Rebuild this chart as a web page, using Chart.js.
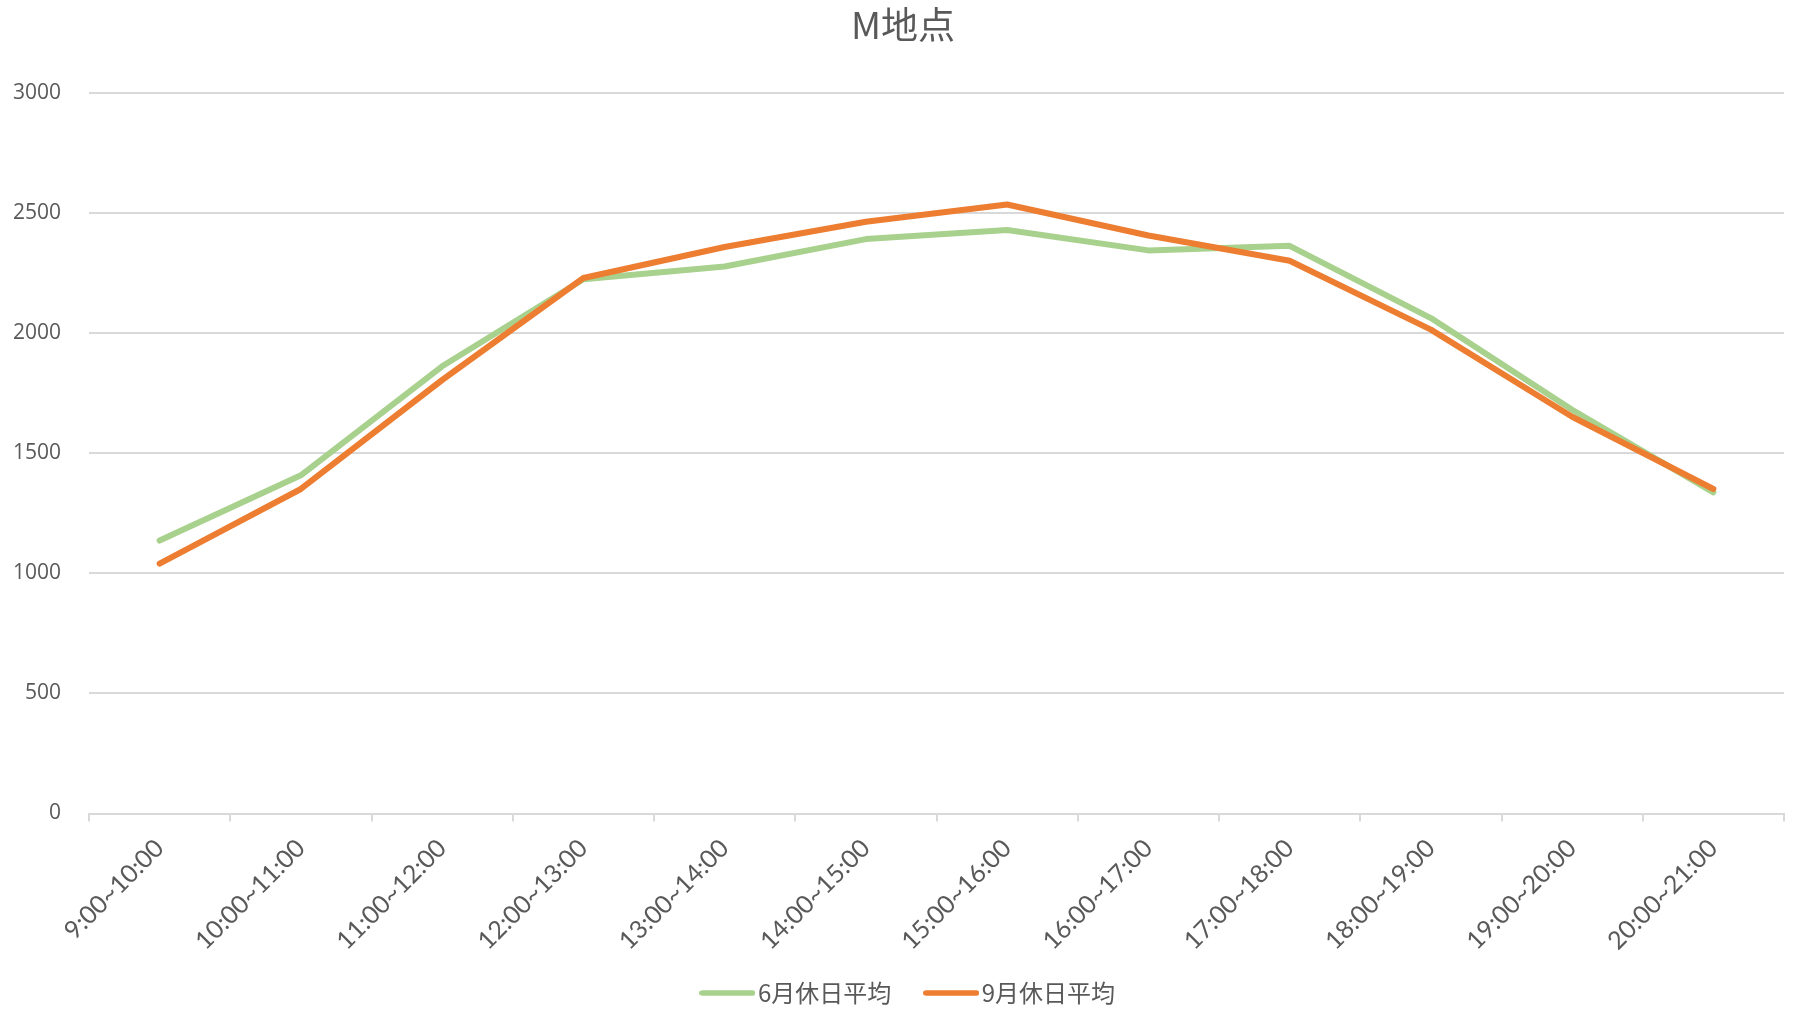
<!DOCTYPE html>
<html>
<head>
<meta charset="utf-8">
<script src="https://cdn.jsdelivr.net/npm/chart.js@4"></script>
<style>
  html, body { margin: 0; padding: 0; background: #fff; }
  #wrap { width: 1797px; height: 1009px; }
</style>
</head>
<body>
<div id="wrap"><canvas id="chart"></canvas></div>
<script>
const timeSlots = [
  "9:00~10:00", "10:00~11:00", "11:00~12:00", "12:00~13:00",
  "13:00~14:00", "14:00~15:00", "15:00~16:00", "16:00~17:00",
  "17:00~18:00", "18:00~19:00", "19:00~20:00", "20:00~21:00"
]
const juneHoliday = [1137, 1409, 1863, 2226, 2279, 2393, 2431, 2346, 2365, 2064, 1682, 1338]
const septHoliday = [1041, 1352, 1806, 2231, 2360, 2465, 2537, 2408, 2303, 2016, 1653, 1352]
const yTicks = [0, 500, 1000, 1500, 2000, 2500, 3000]

const grey = "#595959"
const gridColor = "#D9D9D9"
const cjk = "'Noto Sans CJK JP', 'Noto Sans', sans-serif"
const GREEN = "#A9D18E"
const ORANGE = "#ED7D31"

// short rounded stroke used as the legend marker
function legendLine(color) {
  const c = document.createElement("canvas")
  c.width = 56
  c.height = 8
  const ctx = c.getContext("2d")
  ctx.strokeStyle = color
  ctx.lineWidth = 5.5
  ctx.lineCap = "round"
  ctx.beginPath()
  ctx.moveTo(2.75, 4)
  ctx.lineTo(53.25, 4)
  ctx.stroke()
  return c
}

// nudge title and legend boxes after layout
const nudge = {
  id: "nudge",
  afterLayout(chart) {
    const t = chart.titleBlock
    if (t) { t.left += 11; t.right += 11 }
    const l = chart.legend
    if (l) { l.left += 20; l.right += 20; l.top -= 18; l.bottom -= 18 }
  }
}

new Chart(document.getElementById("chart"), {
  type: "line",
  plugins: [nudge],
  data: {
    labels: timeSlots,
    datasets: [
      {
        label: "6月休日平均",
        data: juneHoliday,
        borderColor: GREEN,
        backgroundColor: GREEN,
        borderWidth: 6,
        borderCapStyle: "round",
        borderJoinStyle: "round",
        pointRadius: 0,
        pointStyle: legendLine(GREEN),
        tension: 0,
        order: 1
      },
      {
        label: "9月休日平均",
        data: septHoliday,
        borderColor: ORANGE,
        backgroundColor: ORANGE,
        borderWidth: 6,
        borderCapStyle: "round",
        borderJoinStyle: "round",
        pointRadius: 0,
        pointStyle: legendLine(ORANGE),
        tension: 0,
        order: 0
      }
    ]
  },
  options: {
    responsive: true,
    maintainAspectRatio: false,
    animation: false,
    layout: { padding: { left: 0, right: 13, top: 0, bottom: -24 } },
    plugins: {
      title: {
        display: true,
        text: "M地点",
        color: grey,
        font: { family: cjk, size: 37, weight: "normal" },
        padding: { top: 3, bottom: 46 }
      },
      legend: {
        position: "bottom",
        labels: {
          color: grey,
          font: { family: cjk, size: 24 },
          usePointStyle: true,
          pointStyleWidth: 37,
          boxHeight: 24,
          padding: 41.5,
          sort: (a, b) => a.datasetIndex - b.datasetIndex
        }
      },
      tooltip: { enabled: false }
    },
    scales: {
      x: {
        offset: true,
        grid: {
          offset: true,
          drawOnChartArea: false,
          drawTicks: true,
          tickLength: 8,
          color: gridColor,
          lineWidth: 2
        },
        border: { display: true, color: gridColor, width: 2 },
        ticks: {
          color: grey,
          font: { family: "Lato, sans-serif", size: 25 },
          maxRotation: 45,
          minRotation: 45,
          padding: 12,
          autoSkip: false
        },
        afterFit: (scale) => { scale.height = 144 }
      },
      y: {
        min: 0,
        max: 3000,
        afterBuildTicks: (scale) => { scale.ticks = yTicks.map(v => ({ value: v })) },
        grid: { color: gridColor, lineWidth: 2, drawTicks: false },
        border: { display: false },
        ticks: {
          color: grey,
          font: { family: "'Open Sans', sans-serif", size: 21 },
          padding: 28,
          callback: (value) => String(value)
        },
        afterFit: (scale) => { scale.width = 89 }
      }
    }
  }
})
</script>
</body>
</html>
